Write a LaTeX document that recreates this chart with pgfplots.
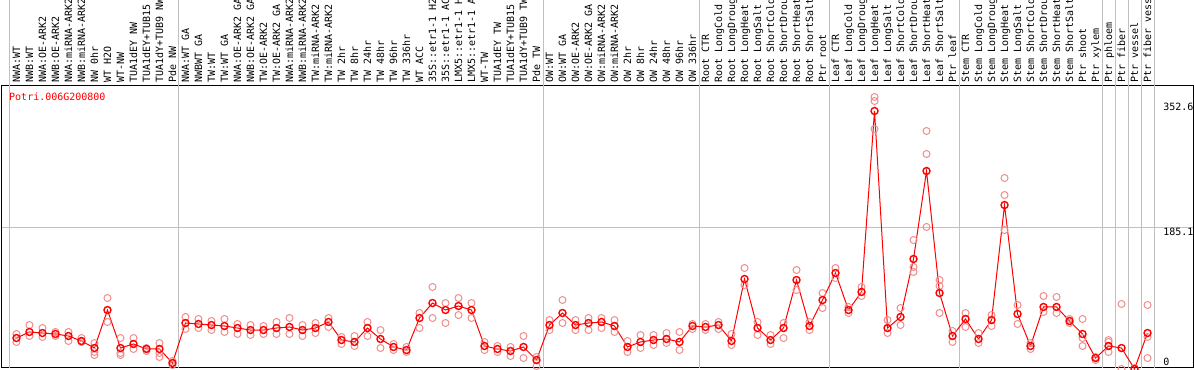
\documentclass[border=0pt]{standalone}
\usepackage{pgfplots}
\pgfplotsset{compat=1.18}
\usepackage{pgfplotstable}
\usepackage{fontspec}
\newfontfamily\mono{DejaVu Sans Mono}
\definecolor{rep}{RGB}{240,140,140}
\definecolor{sep}{RGB}{192,192,192}

\pgfplotstableread{
x y
0 37.5
1 45.6
2 44.2
3 42.9
4 40.2
5 33.5
6 24.1
7 75
8 24.1
9 29.5
10 22.8
11 22.8
12 4
13 57.6
14 56.3
15 54.9
16 53.6
17 50.9
18 48.2
19 48.2
20 50.9
21 52.3
22 48.2
23 50.9
24 59
25 34.8
26 32.2
27 50.9
28 36.2
29 25.5
30 21.4
31 64.3
32 84.4
33 75
34 80.4
35 75
36 26.8
37 22.8
38 20.1
39 25.5
40 8
41 54.9
42 71
43 54.9
44 57.6
45 59
46 53.6
47 25.5
48 32.2
49 34.8
50 36.2
51 32.2
52 53.6
53 52.3
54 54.9
55 33.5
56 116.6
57 50.9
58 34.8
59 50.9
60 115.2
61 53.6
62 88.4
63 124.6
64 75
65 99.2
66 341.7
67 50.9
68 65.7
69 143.4
70 261.3
71 97.8
72 40.2
73 63
74 36.2
75 61.6
76 215.7
77 69.7
78 26.8
79 79.1
80 79.1
81 60.3
82 42.9
83 10.7
84 26.8
85 24.1
86 -4
87 44.2
}\means

\pgfplotstableread{
x y
0 42.9
0 32.2
1 54.9
1 40.2
2 50.9
2 38.9
3 45.6
3 40.2
4 45.6
4 33.5
5 37.5
5 32.2
6 30.8
6 18.8
6 14.7
7 91.1
7 59
8 37.5
8 17.4
8 14.7
9 37.5
9 22.8
10 24.1
10 20.1
11 30.8
11 17.4
11 12.1
12 6.7
12 1.3
13 65.7
13 49.6
14 63
14 50.9
15 60.3
15 48.2
16 63
16 45.6
17 56.3
17 42.9
18 54.9
18 41.5
19 53.6
19 42.9
20 59
20 42.9
21 64.3
21 42.9
22 54.9
22 40.2
23 57.6
23 44.2
24 64.3
24 52.3
25 38.9
25 29.5
26 40.2
26 26.8
27 59
27 40.2
28 48.2
28 24.1
29 29.5
29 21.4
30 25.5
30 18.8
31 71
31 50.9
32 105.9
32 64.3
33 84.4
33 57.6
34 91.1
34 68.3
35 84.4
35 64.3
36 32.2
36 21.4
37 26.8
37 18.8
38 25.5
38 13.4
39 40.2
39 10.7
40 12.1
40 0
41 61.6
41 48.2
42 88.4
42 57.6
43 61.6
43 48.2
44 64.3
44 48.2
45 64.3
45 50.9
46 61.6
46 45.6
47 33.5
47 18.8
48 41.5
48 24.1
49 41.5
49 28.1
50 44.2
50 30.8
51 45.6
51 21.4
52 56.3
52 49.6
53 56.3
53 48.2
54 59
54 49.6
55 42.9
55 28.1
56 131.3
56 108.5
57 59
57 41.5
58 41.5
58 29.5
59 57.6
59 37.5
60 128.6
60 101.8
61 59
61 48.2
62 97.8
62 77.7
63 131.3
63 117.9
64 79.1
64 71
65 105.9
65 93.8
66 360.5
66 355.1
66 317.6
67 61.6
67 44.2
68 77.7
68 54.9
69 168.8
69 132.7
69 126
70 314.9
70 284.1
70 186.3
71 115.2
71 107.2
71 71
72 46.9
72 32.2
73 71
73 52.3
74 44.2
74 30.8
75 68.3
75 53.6
76 251.9
76 229.1
76 182.2
77 81.7
77 56.3
78 30.8
78 22.8
79 93.8
79 72.4
80 92.5
80 71
81 63
81 57.6
82 63
82 37.5
82 26.8
83 12.1
83 8
84 34.8
84 32.2
84 18.8
85 83.1
85 -4
86 -2.7
87 81.7
87 38.9
87 10.7
}\reps

\begin{document}
\begin{tikzpicture}
\begin{axis}[
  scale only axis, width=1192bp, height=282bp,
  xmin=-1.19, xmax=90.5, ymin=-2.68, ymax=375.2,
  clip=false,
  axis line style={black, line width=1bp},
  xtick={0,...,87},
  xticklabels={NWA:WT, NWB:WT, NWA:OE-ARK2, NWB:OE-ARK2, NWA:miRNA-ARK2, NWB:miRNA-ARK2, NW 0hr, WT H2O, WT-NW, TUA1dEY NW, TUA1dEY+TUB15 NW, TUA1dY+TUB9 NW, Pde NW,
    NWA:WT GA, NWBWT GA, TW:WT, TW:WT GA, NWA:OE-ARK2 GA, NWB:OE-ARK2 GA, TW:OE-ARK2, TW:OE-ARK2 GA, NWA:miRNA-ARK2, NWB:miRNA-ARK2, TW:miRNA-ARK2, TW:miRNA-ARK2, TW 2hr, TW 8hr, TW 24hr, TW 48hr, TW 96hr, TW 336hr, WT ACC, 35S::etr1-1 H2O, 35S::etr1-1 ACC, LMX5::etr1-1 H2O, LMX5::etr1-1 ACC, WT-TW, TUA1dEY TW, TUA1dEY+TUB15 TW, TUA1dY+TUB9 TW, Pde TW,
    OW:WT, OW:WT GA, OW:OE-ARK2, OW:OE-ARK2 GA, OW:miRNA-ARK2, OW:miRNA-ARK2, OW 2hr, OW 8hr, OW 24hr, OW 48hr, OW 96hr, OW 336hr,
    Root CTR, Root LongCold, Root LongDrought, Root LongHeat, Root LongSalt, Root ShortCold, Root ShortDrought, Root ShortHeat, Root ShortSalt, Ptr root,
    Leaf CTR, Leaf LongCold, Leaf LongDrought, Leaf LongHeat, Leaf LongSalt, Leaf ShortCold, Leaf ShortDrought, Leaf ShortHeat, Leaf ShortSalt, Ptr leaf,
    Stem CTR, Stem LongCold, Stem LongDrought, Stem LongHeat, Stem LongSalt, Stem ShortCold, Stem ShortDrought, Stem ShortHeat, Stem ShortSalt, Ptr shoot, Ptr xylem,
    Ptr phloem, Ptr fiber, Ptr vessel, Ptr fiber vessel},
  xticklabel pos=right,
  xticklabel style={rotate=90, anchor=west, inner xsep=3.5bp, inner ysep=0pt, text height=7.3bp, text depth=0bp, font=\fontsize{10bp}{12bp}\selectfont\mono},
  major tick length=0pt,
  ytick={185.1}, yticklabels={},
  ymajorgrids, grid style={sep, line width=1bp},
]
\coordinate (O) at (rel axis cs:0,0);
\pgfplotsinvokeforeach{-0.5,12.5,40.5,52.5,62.5,72.5,83.5,84.5,85.5,86.5,87.5}{
  \draw[sep, line width=1bp] (axis cs:#1,-2.68) -- (axis cs:#1,500);
}
\addplot[only marks, mark=o, mark size=3.5bp, draw=rep, line width=1bp] table {\reps};
\addplot[red, line width=1bp, mark=o, mark size=3.5bp, mark options={line width=1.4bp}] table {\means};
\node[anchor=north west, inner sep=0pt, text=red, font=\fontsize{10bp}{12bp}\selectfont\mono] at ([shift={(8bp,-7bp)}]rel axis cs:0,1) {Potri.006G200800};
\node[anchor=north west, inner sep=0pt, font=\fontsize{10bp}{12bp}\selectfont\mono] at (axis cs:88.2,352.6) {352.6};
\node[anchor=north west, inner sep=0pt, font=\fontsize{10bp}{12bp}\selectfont\mono] at (axis cs:88.2,185.1) {185.1};
\node[anchor=south west, inner sep=0pt, font=\fontsize{10bp}{12bp}\selectfont\mono] at (axis cs:88.2,0) {0};
\end{axis}
\pgfresetboundingbox
\path ([shift={(-1bp,-2bp)}]O) rectangle ([shift={(1193bp,368bp)}]O);
\end{tikzpicture}
\end{document}
